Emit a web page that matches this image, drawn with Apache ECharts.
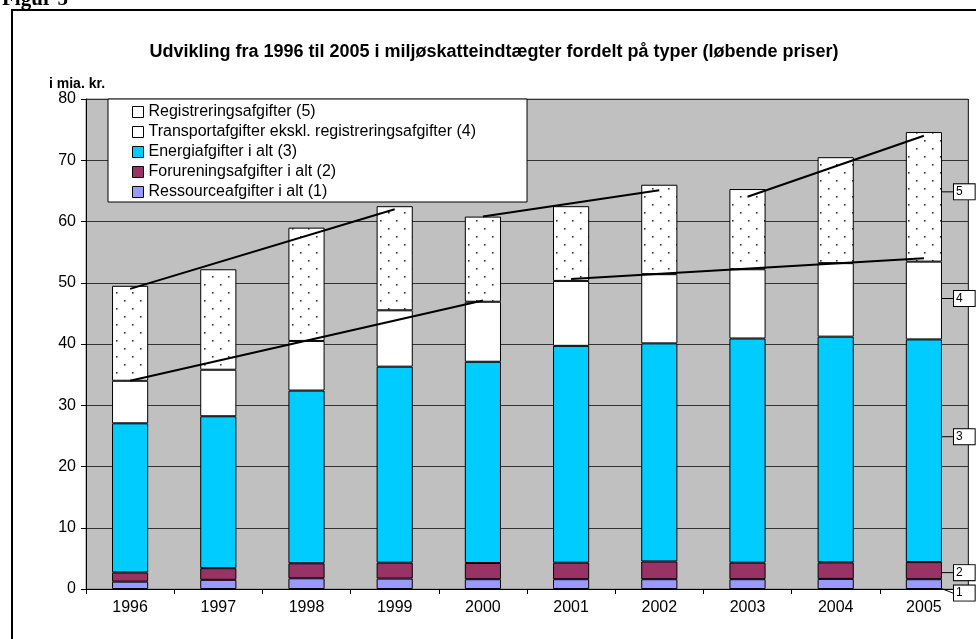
<!DOCTYPE html>
<html><head><meta charset="utf-8">
<script src="https://cdn.jsdelivr.net/npm/echarts@6/dist/echarts.min.js"></script>
<style>html,body{margin:0;padding:0;background:#fff}#c{width:976px;height:639px}</style>
</head><body><div id="c"></div>
<script>
const years = ['1996','1997','1998','1999','2000','2001','2002','2003','2004','2005'];
const ressource    = [1.2, 1.5, 1.75, 1.7, 1.6, 1.6, 1.6, 1.6, 1.65, 1.6];
const forurening   = [1.5, 1.9, 2.45, 2.6, 2.65, 2.7, 2.9, 2.7, 2.7, 2.8];
const energi       = [24.35, 24.8, 28.2, 32.0, 32.85, 35.4, 35.6, 36.6, 36.85, 36.35];
const transport    = [6.95, 7.6, 8.1, 9.2, 9.8, 10.6, 11.3, 11.3, 12.0, 12.7];
const registrering = [15.5, 16.4, 18.5, 17.0, 13.9, 12.2, 14.6, 13.1, 17.3, 21.15];
// hand-drawn trend lines (values at category positions)
const trend1 = [49.0, null, null, 62.0, null, null, null, null, null, null];
const trend2 = [null, null, null, null, 60.8, null, 65.1, null, null, null];
const trend3 = [null, null, null, null, null, null, null, 64.05, null, 74.0];
const trend4 = [34.0, null, null, null, 47.1, null, null, null, null, null];
const trend5 = [null, null, null, null, null, 50.6, null, null, null, 54.0];
const names = ['Ressourceafgifter i alt (1)','Forureningsafgifter i alt (2)','Energiafgifter i alt (3)','Transportafgifter ekskl. registreringsafgifter (4)','Registreringsafgifter (5)'];
const segLabels = ['1','2','3','4','5'];
const yTicks = [0,10,20,30,40,50,60,70,80];

const pat = document.createElement('canvas'); pat.width = 16; pat.height = 16;
const cx = pat.getContext('2d');
cx.fillStyle = '#fff'; cx.fillRect(0,0,16,16);
cx.fillStyle = '#333'; cx.fillRect(4,4,1.6,1.6); cx.fillRect(12,12,1.6,1.6);

const colors = ['#9999FF','#993366','#00CCFF','#FFFFFF',{image: pat, repeat: 'repeat'}];
const labelDy = [9, 2, -14, -2, -5];
const FONT = 'Liberation Sans, Arial, sans-serif';
const last = years.length - 1;

function barSeries(idx, vals){
  return {
    name: names[idx], type: 'bar', stack: 'total', barWidth: '41%',
    itemStyle: {color: colors[idx], borderColor: '#000', borderWidth: 1},
    data: vals.map((v,i) => i === last ? {value: v, label: {show: true}} : v),
    label: {show: false, position: 'right', distance: 12, formatter: segLabels[idx],
      backgroundColor: '#fff', borderColor: '#000', borderWidth: 1,
      padding: [2, 12, 1, 2], fontSize: 12, fontFamily: FONT, color: '#000'},
    labelLine: {show: true, lineStyle: {color: '#000', width: 1}},
    labelLayout: {dy: labelDy[idx]},
    emphasis: {disabled: true}
  };
}
function trendSeries(vals){
  return {type: 'line', data: vals, connectNulls: true, symbol: 'none', z: 5, silent: true,
    lineStyle: {color: '#000', width: 2}, emphasis: {disabled: true}};
}

const chart = echarts.init(document.getElementById('c'), null, {renderer: 'canvas'});
chart.setOption({
  animation: false,
  textStyle: {fontFamily: FONT},
  title: [
    {text: 'Udvikling fra 1996 til 2005 i miljøskatteindtægter fordelt på typer (løbende priser)',
     left: 489, textAlign: 'center', top: 38,
     textStyle: {fontSize: 18, fontWeight: 'bold', color: '#000', fontFamily: FONT}},
    {text: 'i mia. kr.', left: 44, top: 72, textStyle: {fontSize: 14, fontWeight: 'bold', color: '#000', fontFamily: FONT}}
  ],
  graphic: [
    {type: 'text', left: 2, top: -11, style: {text: 'Figur 5', font: 'bold 21px "Liberation Serif", "Times New Roman", serif', fill: '#000'}},
    {type: 'rect', shape: {x: 12, y: 10, width: 1000, height: 700}, style: {fill: null, stroke: '#000', lineWidth: 2}, z: 100}
  ],
  legend: {
    orient: 'vertical', left: 108, top: 99,
    backgroundColor: '#fff', borderColor: '#000', borderWidth: 1, borderRadius: 0,
    padding: [3, 51, 0, 24], itemGap: 0, itemWidth: 11, itemHeight: 11,
    textStyle: {fontSize: 16, color: '#000', fontFamily: FONT, lineHeight: 20},
    icon: 'rect',
    itemStyle: {borderColor: '#000', borderWidth: 1},
    data: [
      {name: names[4], itemStyle: {color: '#fff'}},
      names[3], names[2], names[1], names[0]
    ],
    selectedMode: false
  },
  grid: {left: 86, right: 8, top: 99, bottom: 50, show: true, backgroundColor: '#C0C0C0', borderColor: '#808080', borderWidth: 1},
  xAxis: {
    type: 'category', data: years, boundaryGap: true,
    axisLine: {lineStyle: {color: '#000', width: 1}},
    axisTick: {show: true, length: 5, lineStyle: {color: '#000'}},
    axisLabel: {fontSize: 16, color: '#000', margin: 11, fontFamily: FONT},
    splitLine: {show: true, interval: (i) => i === 5, lineStyle: {color: '#333', width: 1}}
  },
  yAxis: {
    type: 'value', min: yTicks[0], max: yTicks[yTicks.length-1], interval: 10,
    axisLine: {show: true, lineStyle: {color: '#000'}},
    axisTick: {show: true, length: 5, lineStyle: {color: '#000'}},
    axisLabel: {fontSize: 16, color: '#000', margin: 10, fontFamily: FONT},
    splitLine: {show: true, lineStyle: {color: '#333', width: 1}}
  },
  series: [
    barSeries(0, ressource), barSeries(1, forurening), barSeries(2, energi),
    barSeries(3, transport), barSeries(4, registrering),
    trendSeries(trend1), trendSeries(trend2), trendSeries(trend3), trendSeries(trend4), trendSeries(trend5)
  ]
});
</script></body></html>
